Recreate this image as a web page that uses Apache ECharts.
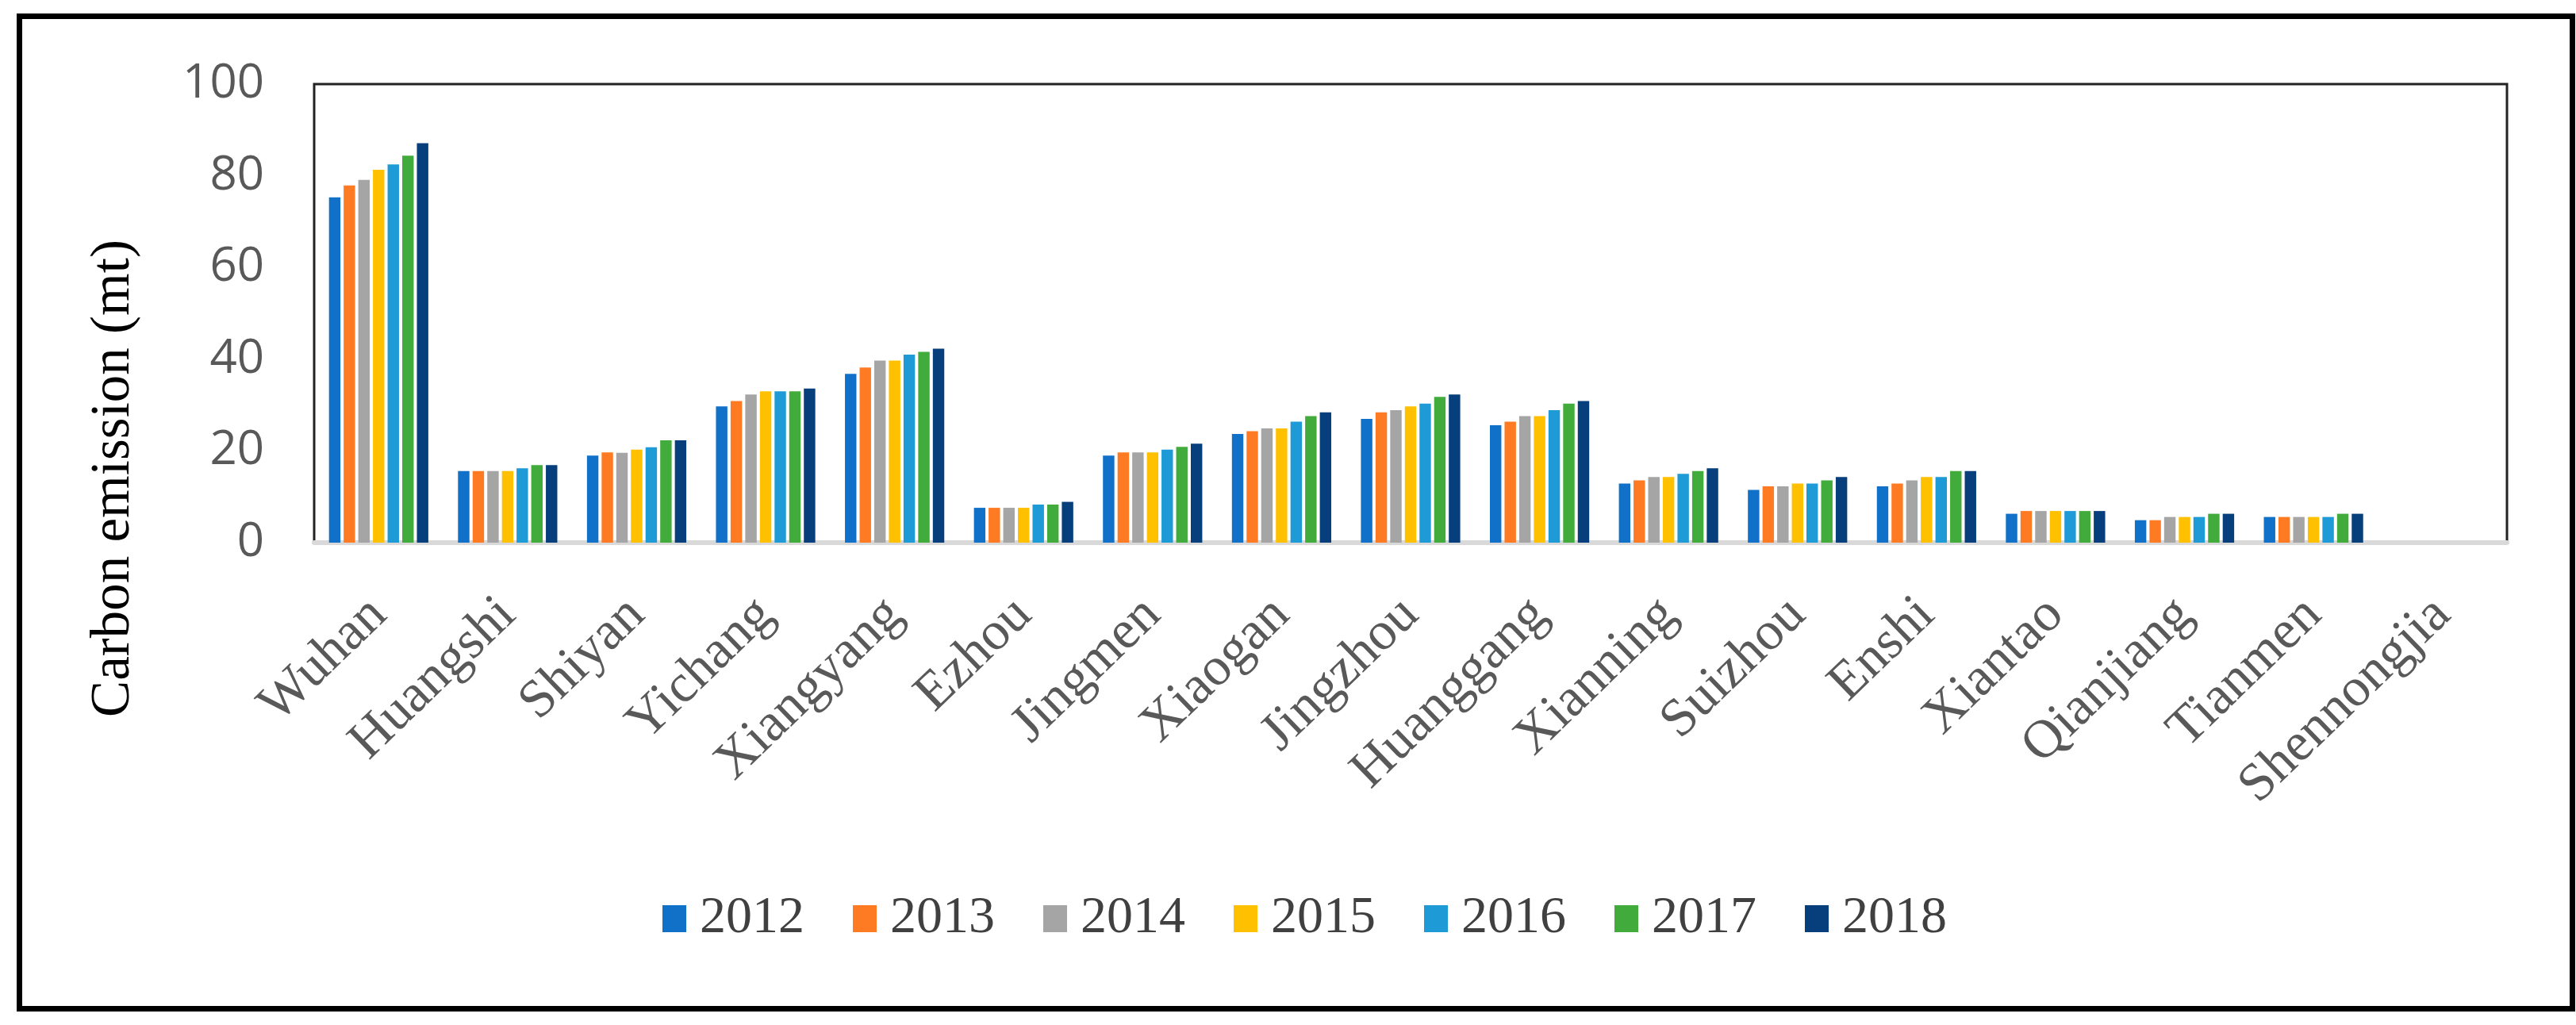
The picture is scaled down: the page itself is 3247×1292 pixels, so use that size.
<!DOCTYPE html>
<html>
<head>
<meta charset="utf-8">
<script src="https://cdn.jsdelivr.net/npm/echarts@6/dist/echarts.min.js"></script>
<style>
html,body{margin:0;padding:0;background:#fff;}
#chart{width:3247px;height:1292px;}
</style>
</head>
<body>
<div id="chart"></div>
<script>
var categories = ['Wuhan','Huangshi','Shiyan','Yichang','Xiangyang','Ezhou','Jingmen','Xiaogan','Jingzhou','Huanggang','Xianning','Suizhou','Enshi','Xiantao','Qianjiang','Tianmen','Shennongjia'];
var years = ['2012','2013','2014','2015','2016','2017','2018'];
var v2012 = [75.3, 15.6, 19.0, 29.7, 36.8, 7.6, 19.0, 23.7, 27.0, 25.6, 12.9, 11.5, 12.3, 6.3, 4.9, 5.6, 0];
var v2013 = [77.9, 15.6, 19.7, 30.9, 38.2, 7.6, 19.7, 24.3, 28.4, 26.4, 13.6, 12.3, 12.9, 6.9, 4.9, 5.6, 0];
var v2014 = [79.1, 15.6, 19.6, 32.3, 39.7, 7.6, 19.7, 24.9, 28.9, 27.6, 14.3, 12.3, 13.6, 6.9, 5.6, 5.6, 0];
var v2015 = [81.3, 15.6, 20.3, 33.0, 39.7, 7.6, 19.7, 24.9, 29.7, 27.6, 14.3, 12.9, 14.3, 6.9, 5.6, 5.6, 0];
var v2016 = [82.5, 16.2, 20.8, 33.0, 41.0, 8.3, 20.3, 26.4, 30.3, 28.9, 15.0, 12.9, 14.3, 6.9, 5.6, 5.6, 0];
var v2017 = [84.4, 16.9, 22.3, 33.0, 41.6, 8.3, 20.9, 27.6, 31.8, 30.3, 15.6, 13.6, 15.6, 6.9, 6.3, 6.3, 0];
var v2018 = [87.1, 16.9, 22.3, 33.6, 42.3, 8.9, 21.6, 28.4, 32.3, 30.9, 16.2, 14.3, 15.6, 6.9, 6.3, 6.3, 0];
var yTicks = [0, 20, 40, 60, 80, 100];
var colors = ['#1170C7','#FF7B23','#A5A5A5','#FFC000','#1E9BD7','#41AB3B','#063F7C'];
var values = [v2012, v2013, v2014, v2015, v2016, v2017, v2018];

var chart = echarts.init(document.getElementById('chart'));
var series = years.map(function (y, i) {
  return {
    name: y,
    type: 'bar',
    data: values[i],
    barGap: '28%',
    barCategoryGap: '23%',
    itemStyle: { color: colors[i] }
  };
});
chart.setOption({
  animation: false,
  color: colors,
  grid: {
    left: 396, right: 87, top: 106, bottom: 608,
    show: true, borderColor: '#222', borderWidth: 3, backgroundColor: 'transparent'
  },
  legend: {
    data: years,
    left: 830, top: 1120,
    itemWidth: 30, itemHeight: 34, itemGap: 61,
    icon: 'rect',
    textStyle: { fontFamily: 'Liberation Serif', fontSize: 66, color: '#404040', padding: [0, 0, 0, 12] }
  },
  xAxis: {
    type: 'category',
    data: categories,
    axisLine: { show: true, lineStyle: { color: '#D9D9D9', width: 6 } },
    axisTick: { show: false },
    axisLabel: {
      interval: 0, rotate: 44, margin: 81,
      align: 'right', verticalAlign: 'middle',
      fontFamily: 'Liberation Serif', fontSize: 68, color: '#595959'
    }
  },
  yAxis: {
    type: 'value',
    min: yTicks[0], max: yTicks[yTicks.length - 1], interval: 20,
    axisLine: { show: false },
    axisTick: { show: false },
    splitLine: { show: false },
    axisLabel: {
      margin: 63,
      fontFamily: "'Open Sans', sans-serif", fontSize: 60, color: '#595959'
    }
  },
  graphic: [
    {
      type: 'rect',
      shape: { x: 24.5, y: 20.5, width: 3218, height: 1251 },
      style: { fill: 'none', stroke: '#000', lineWidth: 7 },
      silent: true
    },
    {
      type: 'text',
      x: 144, y: 603,
      rotation: Math.PI / 2,
      style: {
        text: 'Carbon emission (mt)',
        fontFamily: 'Liberation Serif', fontSize: 69, fill: '#000',
        align: 'center', verticalAlign: 'middle'
      }
    }
  ],
  series: series
});
</script>
</body>
</html>
